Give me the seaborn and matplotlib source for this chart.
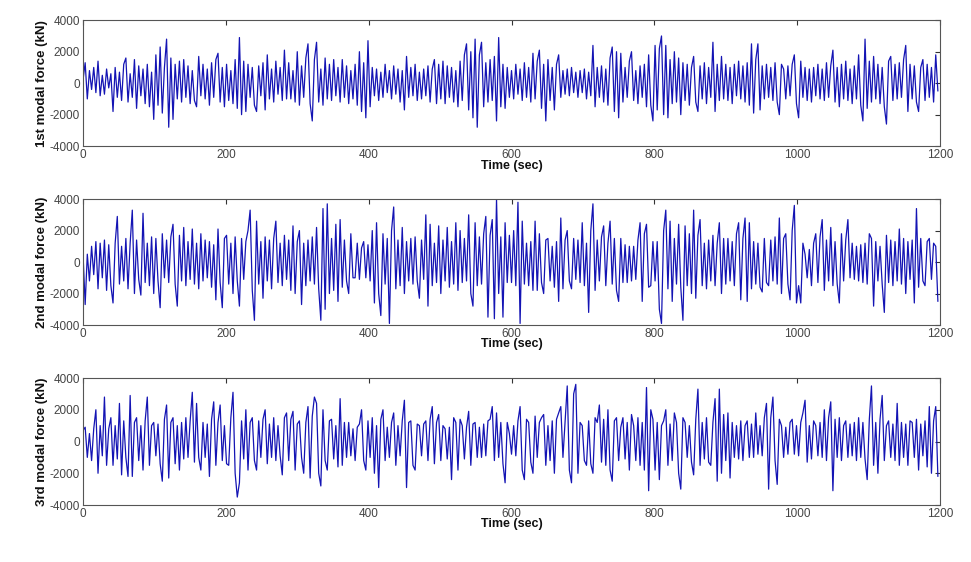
import numpy as np
import pandas as pd
import matplotlib
matplotlib.use("Agg")
import matplotlib.pyplot as plt
import seaborn as sns

# time grid (sec), one sample every 3 s
time_sec = np.arange(0, 1200, 3)

# modal forces, in units of 100 kN
mode1 = [
    2, 13, -10, 8, -4, 10, -6, 14, -8, 5, -7, 9, -3, 6, -18, 10, -9, 7, -11, 12,
    16, -12, 6, -9, 15, -16, 11, -8, 9, -13, 12, -15, 7, -23, 18, -14, 23, -19, 10, 28,
    -28, 16, -23, 12, -10, 14, -12, 15, -9, 11, -13, 8, -11, -15, 17, -8, 12, -10, 9, -14,
    13, -9, 15, 19, -12, 10, -15, 12, -11, 8, -13, 15, -16, 29, -20, 14, -18, 12, -9, 10,
    -14, -18, 11, -8, 13, -17, 18, -10, 9, -12, 14, -7, 10, -11, 21, -10, 13, -10, 8, -12,
    20, -14, 11, -9, 16, 25, -13, -24, 15, 26, -12, 9, -14, 16, -10, 12, -11, 15, -8, 10,
    -12, 15, -9, 11, -13, 8, -10, 12, -14, 20, -18, 13, -22, 27, -15, 10, -8, 9, -11, 7,
    -9, 12, -6, 8, -10, 11, -7, 9, -12, 8, -17, 17, -9, 10, -8, 12, -11, 7, -10, 9,
    -8, 11, -12, 9, 15, -13, 12, -10, 14, -13, 11, -9, 10, -12, 8, -15, 14, -11, 18, 25,
    -17, 20, -22, 28, -28, 18, 26, -15, 13, -12, 15, -11, 17, -24, 29, -15, 12, -16, 10, -9,
    8, -10, 12, -7, 9, -11, 13, -9, 10, -12, 19, -10, 14, 21, -16, 12, -24, 15, -11, 10,
    -17, 12, 18, -9, 8, -7, 9, -8, 10, -6, 7, -9, 8, -6, 9, -10, 7, -8, 24, -15,
    10, -9, 11, -12, 9, -14, 16, 23, -18, 20, -22, 19, -12, 10, -9, 14, 20, -11, 8, -13,
    11, -9, 12, -15, 18, -14, -24, 24, -17, 22, 30, -20, 24, -22, 15, -13, 20, -12, 16, -20,
    13, -11, 12, -14, 10, 17, -12, -18, 11, -10, 13, -13, 10, -9, 26, -18, 12, -11, 17, -10,
    12, -11, 10, -13, 12, -8, 14, -10, 11, -12, 13, -14, 25, -19, 15, 25, -17, 11, -10, 12,
    -9, 10, -11, 13, -12, -20, 12, 9, -10, 11, -8, 12, 18, -13, -22, 14, -9, 10, -11, 9,
    -12, 10, -8, 12, -10, 9, -11, 13, -9, 11, 21, -12, 10, -15, 12, -10, 14, -11, 9, -13,
    11, -10, 18, -14, -24, 28, -16, 14, -12, 17, -10, 12, -13, 10, -15, -26, 14, 17, -11, 12,
    -10, 13, -9, 15, 24, -18, 12, -10, 11, -12, -18, 10, 15, -11, 12, -9, 10, -12, 18, -5,
]

mode2 = [
    5, -27, 5, -12, 10, -8, 13, -17, 12, -10, 14, -18, 11, -15, -26, 12, 29, -14, 10, -12,
    15, -17, 12, 33, -20, 14, -11, -21, 31, -13, 12, -15, 16, -20, 15, -12, -29, 18, -10, 14,
    -13, 16, 24, -14, -28, 17, -12, 22, -15, 13, -11, 21, -14, 12, -17, 18, -12, 14, -10, 13,
    -16, 11, -24, 21, -13, -29, 15, 17, -14, 12, -20, 16, -12, -28, 15, -11, 13, 20, 33, -18,
    -37, 26, -14, 13, -23, 16, -12, 14, -17, 15, 26, -13, 12, -15, 17, -11, 14, -18, 23, -20,
    13, 20, -27, 12, -15, 14, -12, 16, -14, 22, -17, -37, 34, -30, 37, -20, 15, -18, 24, -25,
    27, -16, 14, -12, -20, 18, -10, -10, 12, -11, 9, 13, -10, 11, -12, 20, -26, 25, -20, -34,
    18, -14, 15, -39, 20, 35, -17, 14, -15, 22, -20, 13, -12, 15, -14, 16, -12, -23, 14, -11,
    30, -28, 24, -15, 12, -13, 23, -20, 14, -12, 22, -16, 13, -14, 25, -18, 20, -13, 15, -12,
    30, -20, -28, 25, -15, 16, -14, 18, 29, -35, 17, 27, -36, 40, -20, 16, -35, 25, -13, 17,
    -13, 20, -15, 38, -39, 26, -14, 12, -15, 13, -18, 26, -18, 18, -13, -20, 14, 15, -12, 10,
    -16, 13, -25, 28, -17, 14, 20, -12, -17, 15, -11, 14, -13, 25, -15, 12, -32, 20, 37, -18,
    14, -12, 16, 23, -15, 12, 26, -14, 15, -18, -25, 15, -13, 11, -13, 10, -12, 10, -11, 14,
    25, -25, 18, 24, -16, -15, 13, -12, 13, -30, -39, 20, 33, -17, 26, -25, 15, -14, 24, -16,
    -37, 23, -15, 18, -20, 33, -23, 17, 27, -15, 12, -17, 14, -12, 17, -15, 12, 25, -20, 15,
    -14, 15, -12, 13, -15, 18, 25, -24, 15, 28, -25, 25, -17, 13, -14, 12, -16, -19, 15, -13,
    -15, 14, -12, 16, -14, 28, -20, 15, 18, -14, -24, 20, 36, -26, -15, -26, 12, 5, -10, 8,
    -15, 12, 18, -13, 16, 27, -18, 14, -12, 22, -15, 13, -14, -26, 18, -12, 14, 27, -10, 12,
    -11, 10, -12, 11, -13, 12, -14, 18, 15, -28, 13, -12, 10, -14, -32, 17, -13, 14, -15, 13,
    -12, 21, -14, 15, -20, 13, -11, 14, -26, 34, -16, 15, -12, -15, 13, 15, -11, 12, 10, -25,
]

mode3 = [
    7, 9, -10, 5, -12, 8, 20, -20, 10, -9, 28, -15, 8, 15, -15, 10, -11, 24, -21, 13,
    -10, -22, 29, -22, 12, 15, -12, 10, -18, 13, 28, -15, 10, 12, -9, 11, -14, -25, 14, 23,
    -23, 12, 15, -14, 10, -18, 12, -11, 15, -10, 13, 31, -13, 24, -10, -18, 12, -10, 11, -22,
    14, 25, -15, 12, 23, -12, 10, -14, -15, 15, 31, -20, -35, -26, 13, -11, 20, -18, 12, 15,
    -12, -18, 13, -10, 14, 20, -14, 11, -10, 15, -12, 10, -9, -21, 15, 18, -12, 14, 19, -18,
    11, 13, -10, -20, 12, 22, -23, 16, 28, 24, -20, -28, 20, -12, -18, 13, 14, -11, 10, -16,
    27, -15, 12, -10, 12, -9, 8, -12, 9, 11, 20, -12, -18, 13, -10, 15, -20, 10, -29, 14,
    20, -12, 9, -10, 12, 18, -15, 10, -9, 13, 26, -29, 12, 13, -15, -18, 11, 10, -9, 11,
    13, -12, 14, 22, -14, 12, 17, -12, 10, 8, -11, 9, -24, 15, 12, -18, 14, 10, -11, 9,
    19, -15, 11, 12, -10, 9, -10, 11, -9, 13, 14, 22, -12, 18, -10, 12, -14, -26, 12, 5,
    -8, 10, -9, 13, 22, -18, -24, 14, 12, -13, -20, 16, -10, 12, 15, 17, -15, 10, -12, 13,
    -20, 14, 18, 22, -10, 12, 35, -18, -26, 30, 36, -20, 12, 10, -12, -15, 13, -14, -20, 15,
    12, 23, -13, 14, -15, 20, -18, -25, 13, 15, -12, 9, 15, -11, 12, -18, 17, 10, -12, 15,
    -15, 12, -18, 34, -31, 20, 14, -18, 12, -24, 10, 13, 20, -15, 11, -12, 18, 12, -20, -30,
    15, 12, -10, 10, -13, -21, 14, 33, -15, 12, -11, 15, -13, -15, 12, 27, -25, 33, -20, 17,
    -12, 18, -23, 12, -10, 10, -11, 13, -12, 10, 13, -10, 11, -10, 18, -8, 10, -9, 15, 24,
    -30, 15, 28, -12, -27, 14, 10, -10, 9, -8, 12, 14, -8, 10, -9, 12, 18, 26, -13, 10,
    -11, 13, 10, -9, 12, -10, 20, -12, 15, 25, -31, 14, -10, 15, -12, 10, 13, -10, 11, -9,
    12, -12, 15, -10, 12, -11, -24, 14, 35, -15, 12, -20, 14, 29, -12, 10, 13, -10, 11, -12,
    24, -15, 12, -10, 11, -15, 13, 12, -10, 14, -18, 11, -9, 13, -16, 22, -20, 13, 22, -22,
]

ylabels = ["1st modal force (kN)", "2nd modal force (kN)", "3rd modal force (kN)"]
xlabel = "Time (sec)"
xticks = [0, 200, 400, 600, 800, 1000, 1200]
yticks = [-4000, -2000, 0, 2000, 4000]

sns.set_style("white")
plt.rcParams["font.family"] = ["Liberation Sans", "DejaVu Sans"]
plt.rcParams["axes.unicode_minus"] = False

fig = plt.figure(figsize=(9.71, 5.62), dpi=100)
positions = [
    [0.0855, 0.740, 0.8826, 0.224],
    [0.0855, 0.4217, 0.8826, 0.224],
    [0.0855, 0.1014, 0.8826, 0.226],
]

series = [mode1, mode2, mode3]
for pos, vals, ylab in zip(positions, series, ylabels):
    ax = fig.add_axes(pos)
    df = pd.DataFrame({"t": time_sec, "f": np.array(vals) * 100.0})
    sns.lineplot(data=df, x="t", y="f", ax=ax, color="#1414b4",
                 linewidth=0.9, estimator=None)
    ax.set_xlim(0, 1200)
    ax.set_ylim(-4000, 4000)
    ax.set_xticks(xticks)
    ax.set_yticks(yticks)
    ax.tick_params(direction="in", top=True, right=True, length=3.5,
                   width=0.8, color="#333333", labelsize=8.5,
                   labelcolor="#444444", pad=2)
    for s in ax.spines.values():
        s.set_color("#555555")
        s.set_linewidth(0.8)
    ax.set_xlabel(xlabel, fontsize=9, fontweight="bold", labelpad=-1,
                  color="#111111")
    ax.set_ylabel(ylab, fontsize=9.5, fontweight="bold", labelpad=1,
                  color="#111111")

fig.savefig("out.png", dpi=100)
